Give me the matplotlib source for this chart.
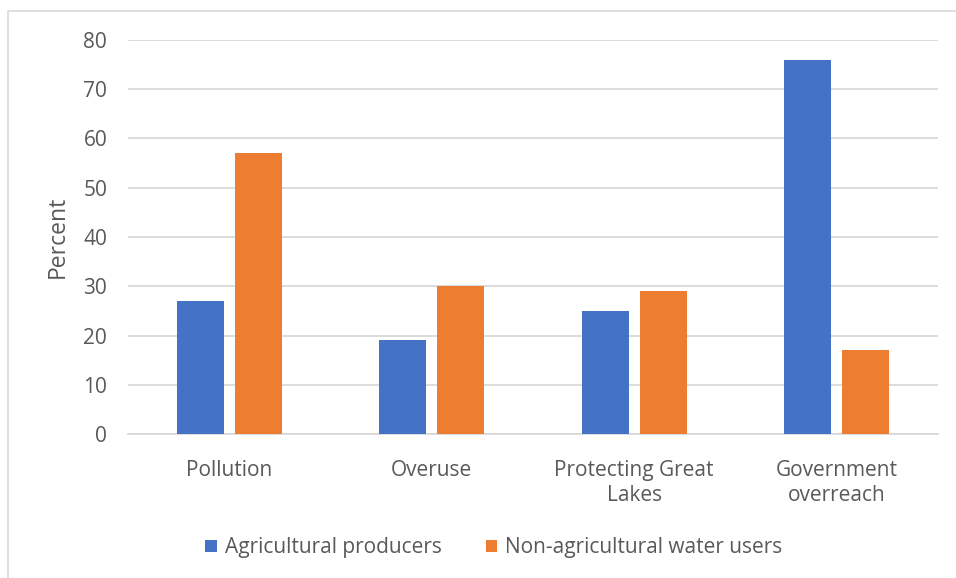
import numpy as np
import matplotlib.pyplot as plt
from matplotlib.patches import Rectangle

categories = ['Pollution', 'Overuse', 'Protecting Great\nLakes', 'Government\noverreach']
agri = [27, 19, 25, 76]
non_agri = [57, 30, 29, 17]
series_names = ['Agricultural producers', 'Non-agricultural water users']

plt.rcParams['font.family'] = ['Open Sans', 'DejaVu Sans']
txt = '#595959'
grid = '#d9d9d9'
fs = 15

fig = plt.figure(figsize=(9.56, 5.78), dpi=100)
fig.patches.append(Rectangle((8 / 956, -0.1), 1.2, (578 - 11) / 578 + 0.1, transform=fig.transFigure,
                             fill=False, edgecolor=grid, linewidth=1.2))
ax = fig.add_axes([128 / 956, (578 - 434) / 578, (938 - 128) / 956, (434 - 40) / 578])

x = np.arange(len(categories))
w = 0.232
off = 0.143
ax.bar(x - off, agri, w, color='#4472C4', label=series_names[0], zorder=3)
ax.bar(x + off, non_agri, w, color='#ED7D31', label=series_names[1], zorder=3)

ax.set_xlim(-0.5, len(categories) - 0.5)
ax.set_ylim(0, 80)
ax.set_yticks(range(0, 81, 10))
ax.set_xticks(x)
ax.set_xticklabels(categories, linespacing=1.2)
ax.yaxis.grid(True, color=grid, linewidth=1.3, zorder=0)
for s in ['top', 'right', 'left']:
    ax.spines[s].set_visible(False)
ax.spines['bottom'].set_color(grid)
ax.spines['bottom'].set_linewidth(1.3)
ax.tick_params(axis='both', length=0, labelsize=fs, colors=txt)
ax.tick_params(axis='y', pad=15)
ax.tick_params(axis='x', pad=19)
ax.set_ylabel('Percent', fontsize=16.5, color=txt, labelpad=10)

fig.legend(loc='center', bbox_to_anchor=(494 / 956, 1 - 548 / 578), ncol=2, frameon=False,
           fontsize=fs, labelcolor=txt, handlelength=0.55, handleheight=0.55,
           handletextpad=0.4, columnspacing=2.1)

plt.savefig('out.png', dpi=100)
